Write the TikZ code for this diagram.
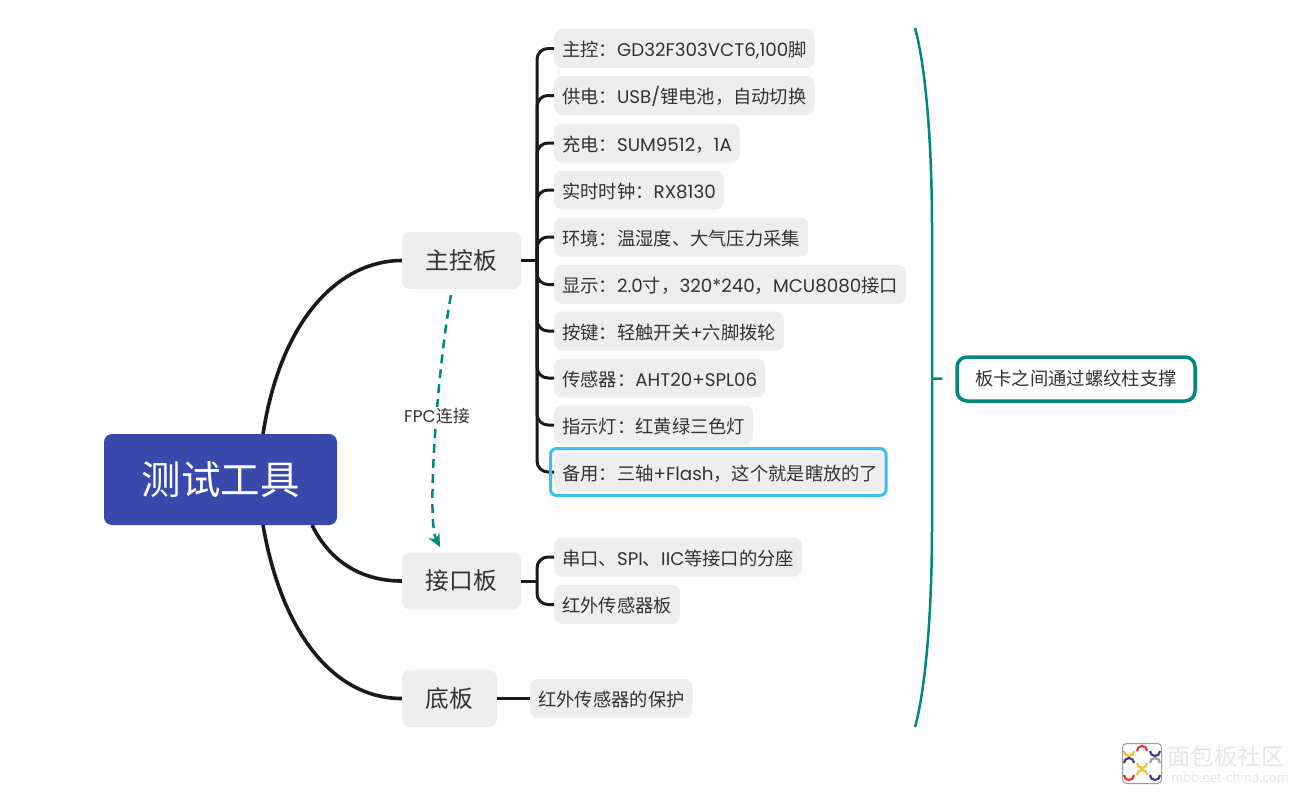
\documentclass[tikz,border=0pt]{standalone}
\usepackage{fontspec}
\setmainfont{Noto Sans CJK SC}
\newfontfamily\latfont{Poppins}
\newcommand{\lat}[1]{{\latfont #1}}
\usetikzlibrary{arrows.meta}
\definecolor{rootblue}{HTML}{3949AB}
\definecolor{leafgray}{HTML}{EEEEEE}
\definecolor{linkteal}{HTML}{00897B}
\definecolor{inktext}{HTML}{333333}
\definecolor{linkblack}{HTML}{1A1A1A}
\definecolor{markblue}{HTML}{3DBEFB}
\definecolor{wmgray}{HTML}{E6E6E6}
\definecolor{logored}{HTML}{E53935}
\definecolor{logoyellow}{HTML}{FBC02D}
\definecolor{logonavy}{HTML}{3F3F8F}
\definecolor{logogray}{HTML}{9E9E9E}
\tikzset{
  rootbox/.style={fill=rootblue,rounded corners=8pt,minimum width=233pt,minimum height=91pt,text=white,font=\fontsize{39.5pt}{44pt}\selectfont},
  branchbox/.style={fill=leafgray,rounded corners=8pt,minimum height=57pt,inner xsep=0pt,text=inktext,font=\fontsize{23.7pt}{28pt}\selectfont},
  leafbox/.style={anchor=west,fill=leafgray,rounded corners=8pt,minimum height=39pt,inner xsep=8pt,inner ysep=0pt,text height=18pt,text depth=2pt,text=inktext,font=\fontsize{18.3pt}{22pt}\selectfont},
  link/.style={draw=linkblack,line width=3.6pt},
  sublink/.style={draw=linkblack,line width=3pt,rounded corners=11pt},
  tealline/.style={draw=linkteal,line width=2.5pt},
}
\begin{document}
\begin{tikzpicture}[x=1pt,y=-1pt]
  \useasboundingbox (0,0) rectangle (1300,795);
  % centre and branches
  \node[rootbox] (root) at (220.5,479.5) {测试工具};
  \node[branchbox,minimum width=119pt] (mainboard) at (461.5,260.5) {主控板};
  \node[branchbox,minimum width=119pt] (portboard) at (461.5,581) {接口板};
  \node[branchbox,minimum width=95pt] (baseboard) at (449.5,698.5) {底板};
  \coordinate (roottop) at (263,434);
  \coordinate (rootlow) at (263,525);
  \coordinate (rootmid) at (312,525);
  \draw[link] (roottop) .. controls (281,318) and (340,260.5) .. (mainboard.west);
  \draw[link] (rootmid) .. controls (330,562) and (362,581) .. (portboard.west);
  \draw[link] (rootlow) .. controls (282,635) and (335,698.5) .. (baseboard.west);
  % leaves of the main board
  \coordinate (mainhub) at (537,260.5);
  \draw[sublink] (mainboard.east) -- (mainhub);
  \foreach \name/\y/\txt in {
    ctrl/48.5/{主控：\lat{GD32F303VCT6,100}脚},
    power/95.5/{供电：\lat{USB/}锂电池，自动切换},
    charge/143/{充电：\lat{SUM9512}，\lat{1A}},
    clock/190/{实时时钟：\lat{RX8130}},
    env/237/{环境：温湿度、大气压力采集},
    screen/284.5/{显示：\lat{2.0}寸，\lat{320*240}，\lat{MCU8080}接口},
    keys/331/{按键：轻触开关\lat{+}六脚拨轮},
    sensor/378/{传感器：\lat{AHT20+SPL06}},
    lamp/425/{指示灯：红黄绿三色灯},
    spare/472/{备用：三轴\lat{+Flash}，这个就是瞎放的了}}{
    \node[leafbox] (\name) at (554,\y) {\txt};
    \draw[sublink] (mainhub) |- (\name.west);
  }
  \draw[draw=markblue,line width=3pt,rounded corners=6pt] (550.5,448.5) rectangle (886,495.5);
  % leaves of the port board
  \coordinate (porthub) at (537,581);
  \draw[sublink] (portboard.east) -- (porthub);
  \node[leafbox] (header) at (554,557) {串口、\lat{SPI}、\lat{IIC}等接口的分座};
  \node[leafbox] (infra) at (554,604.5) {红外传感器板};
  \draw[sublink] (porthub) |- (header.west);
  \draw[sublink] (porthub) |- (infra.west);
  % base board
  \node[leafbox] (guard) at (530,698.5) {红外传感器的保护};
  \draw[sublink] (baseboard.east) -- (guard.west);
  % dashed relation
  \coordinate (fpcstart) at (451,295);
  \coordinate (fpcend) at (440,547);
  \draw[tealline,dash pattern=on 9pt off 6pt,-{Stealth[length=13pt,width=12pt]}] (fpcstart) .. controls (438,365) and (426,520) .. (fpcend);
  \node[fill=white,inner sep=1pt,text=inktext,font=\fontsize{17pt}{20pt}\selectfont] (fpc) at (437,416) {\lat{FPC}连接};
  % summary
  \node[draw=linkteal,line width=3.5pt,fill=white,rounded corners=10pt,minimum width=238pt,minimum height=44pt,text=inktext,font=\fontsize{18.3pt}{22pt}\selectfont] (note) at (1076,379) {板卡之间通过螺纹柱支撑};
  \coordinate (bracetop) at (915,28);
  \coordinate (bracelow) at (915,727);
  \coordinate (bracemid) at (932,378.5);
  \draw[tealline] (bracetop) .. controls (924,60) and (932,130) .. (932,230) -- (932,525) .. controls (932,625) and (924,695) .. (bracelow);
  \draw[tealline,shorten >=13pt] (bracemid) -- (note.west);
  % watermark
  \draw[draw=logogray,fill=white,line width=1pt,rounded corners=4pt] (1122.5,743.5) rectangle (1161.5,783.5);
  \foreach \cx/\cy/\col/\a in {
    1129/751/logoyellow/180, 1142/751/logored/0, 1155/751/logonavy/180,
    1129/763/logonavy/0, 1142/763/logoyellow/180, 1155/763/logogray/0,
    1129/775/logored/180, 1142/775/logoyellow/0, 1155/775/logonavy/180}{
    \draw[draw=\col,line width=2.2pt] (\cx,\cy) ++(\a:5pt) arc[start angle=\a,delta angle=180,radius=5pt];
  }
  \node[text=wmgray,font=\fontsize{23.5pt}{26pt}\selectfont] (wmtext) at (1226,757) {面包板社区};
  \node[text=wmgray,font=\fontsize{13pt}{15pt}\selectfont] (wmurl) at (1230,777) {mbb.eet-china.com};
\end{tikzpicture}
\end{document}
